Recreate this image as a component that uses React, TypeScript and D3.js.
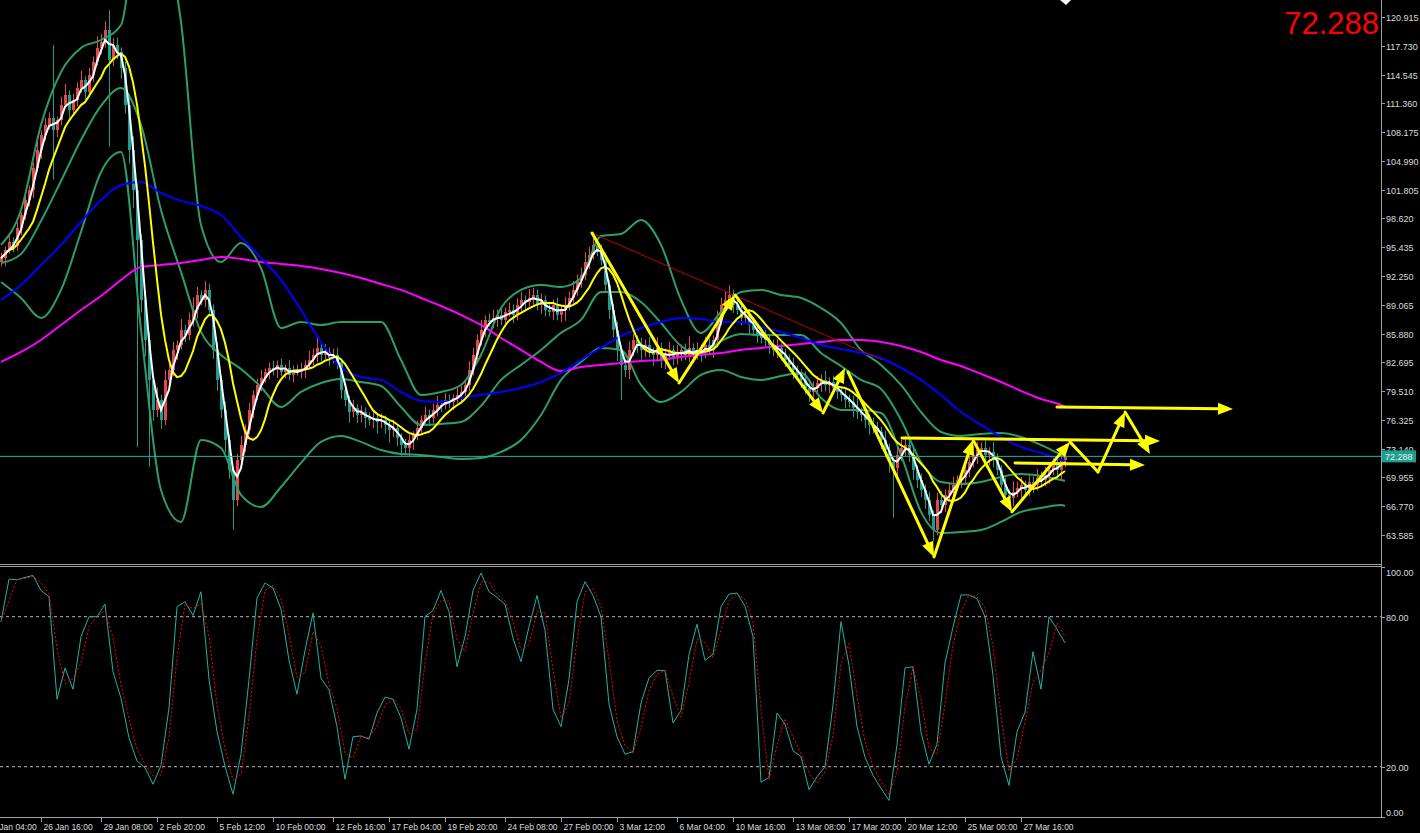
import React from "react";
import * as d3 from "d3";

// ---------- DATA ----------
const firstOpen = 93.8;
const closes = [
  94.25,95.13,96.02,95.58,97.57,99.01,100.67,101.77,104.21,106.20,
  107.86,108.97,109.74,108.41,109.52,111.18,112.29,110.63,111.73,113.06,
  113.95,112.62,114.50,115.94,117.49,118.15,119.48,116.16,117.82,117.05,
  115.27,111.18,106.20,101.77,96.24,89.60,85.17,80.75,77.43,78.53,
  76.32,80.75,81.85,84.07,84.62,86.28,85.73,87.39,88.49,90.15,
  89.60,90.71,88.49,84.07,80.75,77.43,74.11,70.79,67.47,71.89,
  73.55,75.21,77.43,79.09,80.19,80.97,81.63,82.07,81.85,82.41,
  81.63,82.07,81.30,81.85,81.63,81.85,82.41,82.96,83.51,84.29,
  83.51,83.84,83.18,83.51,82.74,79.64,78.53,77.20,77.65,76.87,
  77.20,76.54,76.32,76.54,76.10,76.32,75.77,75.21,75.43,74.33,
  73.55,73.22,74.11,74.66,75.43,76.32,76.87,76.54,77.43,77.98,
  77.98,78.53,78.31,78.75,79.09,79.42,80.19,81.85,83.51,85.17,
  86.28,87.39,87.16,87.61,87.94,87.39,88.27,88.49,87.94,89.05,
  89.60,89.38,89.82,90.15,89.05,89.60,88.49,88.27,89.05,87.94,
  88.49,89.05,89.82,90.71,91.81,92.37,93.80,94.58,95.69,95.13,
  94.03,91.26,88.49,86.28,84.07,82.41,81.85,84.07,85.17,84.62,
  84.07,84.62,83.84,83.51,84.29,82.96,83.51,84.07,83.18,83.84,
  84.07,83.51,84.29,83.51,84.07,83.84,84.62,84.07,85.17,87.39,
  89.05,89.60,90.15,89.05,88.49,87.61,87.94,86.83,86.28,85.73,
  85.39,85.17,84.62,84.07,84.29,83.51,82.96,82.41,81.85,81.30,
  80.75,79.86,79.42,79.86,80.41,80.75,80.19,80.52,79.86,79.42,
  79.09,78.53,78.31,77.65,77.20,76.87,76.32,75.77,75.43,74.99,
  74.11,73.00,71.67,71.01,72.45,73.22,73.55,72.45,70.79,69.68,
  68.57,67.47,65.81,64.14,67.47,66.91,68.02,68.57,69.12,69.68,
  69.90,70.79,71.67,72.45,73.00,73.22,72.45,72.78,71.89,70.79,
  69.12,68.02,67.69,68.35,68.79,69.12,68.57,69.46,69.12,69.90,
  69.68,70.23,70.79,71.34,70.79,71.89,72.288,
];
const wickUp = [
  0.6,0.4,0.8,0.5,0.7,0.3,0.9,0.5,0.6,1.1,
  0.5,0.8,0.6,8.1,0.4,0.9,1.2,0.5,0.7,0.6,
  1.0,0.4,0.8,0.6,1.3,0.9,1.0,2.2,0.8,0.8,
  0.5,0.7,1.2,1.5,0.9,0.6,1.0,0.8,0.5,1.4,
  0.6,1.1,0.7,0.9,0.5,1.2,0.6,0.8,1.4,0.9,
  0.5,1.0,0.7,0.6,0.8,0.5,0.9,0.6,0.4,0.7,
  1.0,0.6,0.8,0.5,0.7,0.9,0.4,0.6,0.8,0.5,
  0.7,0.4,0.9,0.5,0.6,0.8,0.5,1.0,0.7,1.2,
  0.6,0.9,0.5,0.7,0.8,0.4,0.6,0.5,0.9,0.4,
  0.7,0.5,0.6,0.8,0.4,0.7,0.5,0.6,0.9,0.4,
  0.5,0.7,0.6,0.4,0.8,0.5,0.9,0.6,0.7,1.0,
  0.5,0.8,0.6,0.4,0.9,0.7,0.5,1.0,0.8,0.6,
  1.1,0.5,0.7,0.9,0.6,1.0,0.5,0.8,0.6,0.7,
  0.9,0.5,1.0,0.8,0.6,0.7,0.5,0.9,0.6,0.8,
  0.5,0.9,0.7,1.0,0.6,0.8,1.1,0.9,1.4,0.7,
  0.6,0.8,0.5,0.7,0.9,0.5,0.6,1.0,0.7,0.5,
  0.8,0.6,0.9,0.5,1.2,0.6,0.7,0.9,0.5,0.8,
  0.6,0.7,1.3,0.5,0.8,0.6,0.9,0.7,0.5,1.0,
  0.8,0.9,1.1,0.6,0.7,0.5,0.9,0.6,0.8,0.5,
  0.7,0.9,0.5,0.6,1.0,0.5,0.7,0.6,0.8,0.5,
  0.6,0.9,0.5,0.7,0.8,0.6,1.0,0.5,0.7,0.9,
  0.5,0.8,0.6,0.7,1.1,0.5,0.9,0.6,0.8,0.7,
  0.6,1.0,0.7,0.5,1.2,0.9,1.0,0.6,0.8,0.5,
  0.7,0.6,0.9,0.5,0.8,1.0,0.6,0.7,0.9,0.5,
  0.8,0.6,0.7,1.0,0.9,0.6,0.8,0.5,1.1,0.7,
  0.5,0.8,0.6,1.2,0.7,0.9,0.5,0.8,0.6,1.0,
  0.7,0.9,0.5,0.8,1.0,0.9,0.6,
];
const wickDn = [
  0.5,0.9,0.4,0.7,0.6,0.8,0.5,0.7,0.9,0.4,
  1.0,0.6,0.5,5.5,0.8,0.6,0.4,1.1,0.6,0.7,
  0.5,0.9,0.6,0.8,0.4,0.7,0.6,9.6,0.7,0.8,
  1.2,0.9,1.5,2.0,22.9,1.4,1.8,9.6,1.2,0.8,
  1.0,0.6,0.9,0.7,1.1,0.5,0.8,0.6,0.7,0.9,
  0.6,0.8,0.5,1.0,1.2,0.9,1.4,1.0,3.3,0.7,
  0.6,0.8,0.5,0.9,0.6,0.7,0.5,0.8,0.6,0.9,
  0.5,0.7,0.6,0.8,0.4,0.7,0.9,0.5,0.6,0.8,
  0.7,0.5,0.9,0.6,0.8,1.0,0.7,1.2,0.6,0.9,
  0.8,1.1,0.6,0.9,1.3,0.7,1.0,1.4,0.8,0.9,
  1.2,0.7,0.9,1.1,0.6,0.8,0.5,0.9,0.6,0.7,
  0.8,0.5,0.7,0.9,0.6,0.8,0.5,0.7,0.6,0.9,
  0.6,0.8,0.5,0.7,1.0,0.6,0.8,0.5,0.9,0.6,
  0.7,0.9,0.5,0.8,0.6,1.0,0.7,0.5,0.9,0.6,
  0.8,1.2,0.6,0.5,0.7,0.9,0.6,0.8,0.5,0.7,
  0.6,0.9,1.0,0.8,1.2,3.9,0.8,1.0,0.7,0.9,
  1.1,0.8,0.6,1.2,0.7,0.9,1.0,0.6,0.8,0.7,
  1.0,0.6,0.8,0.9,0.5,1.1,0.7,0.6,0.9,0.5,
  0.6,0.8,0.7,0.9,0.5,0.8,0.6,1.0,0.7,0.9,
  0.6,0.8,1.0,0.7,0.9,0.6,0.8,0.7,1.0,0.6,
  0.9,0.7,1.1,0.6,0.8,1.0,0.7,0.9,0.6,0.8,
  0.7,0.9,0.6,1.0,0.8,0.7,0.9,1.1,0.6,0.8,
  1.0,0.8,1.2,5.5,0.9,0.7,1.0,0.8,1.1,0.9,
  0.8,1.0,0.7,1.2,0.6,0.9,0.8,0.7,1.0,0.6,
  0.9,0.7,0.8,0.6,1.0,0.7,0.9,1.2,0.8,0.6,
  1.0,0.8,0.7,0.9,0.6,1.1,0.8,0.7,0.9,0.6,
  0.8,0.7,1.0,0.6,0.9,1.1,0.8,
];

// indicator lines read every 5 bars (+ last bar)
const bbUpper = [
  95.69,99.56,108.97,114.83,117.49,118.37,120.03,132.76,130.55,120.37,
  97.90,93.80,95.91,93.14,86.50,87.16,86.83,87.16,87.16,87.16,
  82.96,79.09,79.42,80.19,83.51,88.71,90.71,91.26,91.04,92.03,
  96.68,96.90,98.45,95.69,89.60,85.95,88.27,90.48,90.71,90.15,
  89.82,88.71,87.05,84.07,82.41,80.19,77.20,74.99,74.55,74.77,
  74.88,74.44,73.55,72.45,72.22,
];
const bbMiddle = [
  93.69,94.69,98.34,102.77,107.31,111.07,113.06,108.97,99.56,92.70,
  86.06,83.51,81.96,79.97,77.76,79.42,80.41,80.86,80.52,80.08,
  77.76,75.77,75.88,76.10,77.87,80.75,82.41,84.07,85.95,87.39,
  90.48,90.48,89.38,87.05,84.51,83.62,85.06,85.84,85.73,85.73,
  85.73,83.73,82.29,80.75,79.75,76.32,71.67,69.46,69.24,69.46,
  70.01,70.34,70.12,69.68,69.57,
];
const bbLower = [
  91.59,89.82,87.61,90.71,97.12,103.76,105.98,86.28,68.57,65.03,
  74.11,73.22,68.02,66.69,68.90,71.56,73.89,74.55,73.89,73.00,
  72.56,72.45,72.22,72.00,72.11,72.78,74.11,76.87,80.75,82.74,
  84.29,84.07,80.19,78.31,79.42,81.30,81.85,81.08,80.75,81.19,
  81.52,78.75,77.43,77.43,77.09,72.45,66.14,63.81,63.92,64.14,
  65.03,66.14,66.58,66.91,66.80,
];
const maBlue = [
  89.60,91.26,93.47,95.69,98.23,100.67,102.33,102.66,101.44,100.56,
  100.00,99.01,96.57,94.25,91.81,88.49,84.95,82.07,81.08,80.75,
  79.42,78.42,78.31,78.75,79.09,79.42,79.86,80.52,81.52,82.96,
  84.29,85.61,86.50,87.16,87.61,87.50,87.16,87.16,86.61,86.06,
  85.39,84.62,84.18,83.73,83.18,82.07,80.75,79.09,77.20,75.77,
  74.44,73.33,72.67,71.89,71.78,
];
const maMagenta = [
  82.74,83.84,85.17,86.83,88.49,90.04,91.81,93.25,93.47,93.69,
  94.03,94.36,94.14,93.80,93.58,93.36,93.03,92.59,92.03,91.37,
  90.71,89.82,88.93,87.94,86.83,85.39,84.07,82.74,81.74,82.18,
  82.41,82.63,82.85,82.96,83.29,83.51,83.73,84.07,84.29,84.51,
  84.73,84.95,85.17,85.17,84.95,84.51,83.84,82.96,82.29,81.41,
  80.52,79.53,78.64,77.98,77.76,
];

// stochastic %K read every 2 bars
const stochMain = [
  78,95,94.8,95.7,96.5,90.5,88,47,59.5,51,
  72,80,80,85,58,47.4,31.5,22.3,19.6,13,
  20.5,43.5,84,86,80.5,90,55,34,20.2,9,
  25,54.7,87.5,93.5,91.5,83,62.5,49,66.5,81.5,
  55.4,50.7,36,15,32,32.3,31,41.5,47.8,47,
  39.5,27,43,80,82.5,90.5,82,60,72,90.5,
  97.5,90,87.7,85,71.4,62,76,88.5,74.5,43,
  36,55,86,94,88.5,80,45,32,25,26,
  45.5,55.5,58.5,58.5,37.5,42.5,64.8,77,62.5,65,
  84,89,89.5,84.2,72,13.8,15.7,41.5,37,26.4,
  24,10.8,16,20,44.7,78,60.5,36,23.8,16.5,
  11.4,6.5,28.8,59.5,60,33.8,21,29,61.5,75.8,
  88.7,88.7,87.2,80,56.5,24,12.5,34,41.8,66,
  51,80,75,69.5,
];

const priceTickLabels = [
  "120.915","117.730","114.545","111.360","108.175","104.990","101.805","98.620","95.435",
  "92.250","89.065","85.880","82.695","79.510","76.325","73.140","69.955","66.770","63.585",
];
const stochTickLabels = ["100.00", "80.00", "20.00", "0.00"];
const stochLevels = [80, 20];
const timeLabels = [
  "23 Jan 04:00","26 Jan 16:00","29 Jan 08:00","2 Feb 20:00","5 Feb 12:00","10 Feb 00:00",
  "12 Feb 16:00","17 Feb 04:00","19 Feb 20:00","24 Feb 08:00","27 Feb 00:00","3 Mar 12:00",
  "6 Mar 04:00","10 Mar 16:00","13 Mar 08:00","17 Mar 20:00","20 Mar 12:00","25 Mar 00:00","27 Mar 16:00",
];
const timeLabelBars = [-4,10,25,39,54,68,83,97,111,126,140,154,169,183,198,212,226,241,255];

const currentPrice = 72.288;
const trendLine: [number, number][] = [[147.75, 97.01], [220.25, 82.96]];
const zigzagA: [number, number][] = [[147.75,97.01],[169.5,80.41],[183.5,90.15],[205.5,77.09],[211,82.07]];
const headsA = [1,1,1,1];
const zigzagB: [number, number][] = [[211.75,81.63],[233.25,61.16],[243,74.11],[252.75,66.14],[267.25,73.89],[274.25,70.56],[281,77.2],[287.25,72.56]];
const headsB = [1,1,1,1,0,1,1];
const hArrows: [number, number][][] = [
  [[225.25,74.33],[289.75,74.0]],
  [[253.5,71.56],[286,71.34]],
  [[264,77.76],[308,77.54]],
];

// ---------- HELPERS ----------
function sma(arr: number[], n: number) {
  return arr.map((_, i) => {
    const s = arr.slice(Math.max(0, i - n + 1), i + 1);
    return d3.mean(s) as number;
  });
}

const FONT = "'Liberation Sans', Arial, sans-serif";
const AXIS_COL = "#a0a0a0";
const TXT_COL = "#dcdcdc";

export default function App() {
  const plotRight = 1381;
  const mainBottom = 564;
  const x = d3.scaleLinear().domain([0, 266]).range([1, 1065]);
  const y = d3.scaleLinear().domain([63.585, 120.915]).range([535, 17]);
  const ys = d3.scaleLinear().domain([0, 100]).range([816.7, 566.7]);

  const sampleBars = d3.range(0, 266, 5).concat([266]);
  const stochBars = d3.range(0, 267, 2);

  const white = sma(closes, 3);
  const yellow = sma(closes, 9);
  const signal = stochMain.map((v, i) => (i === 0 ? v : (v + stochMain[i - 1]) / 2));

  const barLine = d3.line<number>().x((_, i) => x(i)).y((d) => y(d));
  const sampLine = d3
    .line<number>()
    .x((_, i) => x(sampleBars[i]))
    .y((d) => y(d))
    .curve(d3.curveMonotoneX);
  const stLine = d3.line<number>().x((_, i) => x(stochBars[i])).y((d) => ys(d));

  const candles = closes.map((c, i) => {
    const o = i === 0 ? firstOpen : closes[i - 1];
    const up = c > o;
    const hi = Math.max(o, c) + wickUp[i];
    const lo = Math.min(o, c) - wickDn[i];
    const cx = Math.round(x(i));
    const col = up ? "#e24b4b" : "#1f9e8e";
    const top = y(Math.max(o, c));
    const bot = y(Math.min(o, c));
    return (
      <g key={i}>
        <line x1={cx + 0.5} x2={cx + 0.5} y1={y(hi)} y2={y(lo)} stroke={col} strokeWidth={1} />
        <rect x={cx - 1} y={top} width={3} height={Math.max(1, bot - top)} fill={col} />
      </g>
    );
  });

  const arrowSeg = (p1: [number, number], p2: [number, number], head: boolean, key: string) => {
    const x1 = x(p1[0]), y1 = y(p1[1]), x2 = x(p2[0]), y2 = y(p2[1]);
    const dx = x2 - x1, dy = y2 - y1;
    const len = Math.hypot(dx, dy);
    const ux = dx / len, uy = dy / len;
    const L = 15, Wd = 6;
    const bx = x2 - ux * L, by = y2 - uy * L;
    const ex = head ? bx + ux * 2 : x2, ey = head ? by + uy * 2 : y2;
    return (
      <g key={key}>
        <line x1={x1} y1={y1} x2={ex} y2={ey} stroke="#ffff00" strokeWidth={3} strokeLinecap="round" />
        {head && (
          <polygon
            points={`${x2},${y2} ${bx - uy * Wd},${by + ux * Wd} ${bx + uy * Wd},${by - ux * Wd}`}
            fill="#ffff00"
          />
        )}
      </g>
    );
  };

  const yCur = y(currentPrice);

  return (
    <svg
      width={1420}
      height={833}
      style={{ position: "absolute", left: 0, top: 0, background: "#000", display: "block" }}
    >
      <defs>
        <clipPath id="mainClip">
          <rect x={0} y={0} width={plotRight} height={mainBottom} />
        </clipPath>
        <clipPath id="subClip">
          <rect x={0} y={567} width={plotRight} height={250} />
        </clipPath>
      </defs>
      <rect x={0} y={0} width={1420} height={833} fill="#000" />

      {/* MAIN PANEL */}
      <g clipPath="url(#mainClip)">
        {candles}
        <path d={sampLine(bbUpper) || ""} fill="none" stroke="#2e9e68" strokeWidth={2} />
        <path d={sampLine(bbMiddle) || ""} fill="none" stroke="#2e9e68" strokeWidth={2} />
        <path d={sampLine(bbLower) || ""} fill="none" stroke="#2e9e68" strokeWidth={2} />
        <path d={sampLine(maMagenta) || ""} fill="none" stroke="#ff00ff" strokeWidth={2} />
        <path d={sampLine(maBlue) || ""} fill="none" stroke="#0000ff" strokeWidth={2} />
        <path d={barLine(yellow) || ""} fill="none" stroke="#ffff00" strokeWidth={2} />
        <path d={barLine(white) || ""} fill="none" stroke="#ffffff" strokeWidth={2} />
        <line
          x1={x(trendLine[0][0])} y1={y(trendLine[0][1])}
          x2={x(trendLine[1][0])} y2={y(trendLine[1][1])}
          stroke="#c00000" strokeWidth={1}
        />
        <line x1={0} x2={plotRight} y1={yCur} y2={yCur} stroke="#20b2aa" strokeWidth={1} />
        {zigzagA.slice(1).map((p, i) => arrowSeg(zigzagA[i], p, headsA[i] === 1, "a" + i))}
        {zigzagB.slice(1).map((p, i) => arrowSeg(zigzagB[i], p, headsB[i] === 1, "b" + i))}
        {hArrows.map((s, i) => arrowSeg(s[0], s[1], true, "h" + i))}
        <polygon points={`${x(266) - 5},0 ${x(266) + 1},5 ${x(266) + 6},0`} fill="#ffffff" />
      </g>

      {/* SUB PANEL: stochastic */}
      <g clipPath="url(#subClip)">
        {stochLevels.map((lv) => (
          <line key={lv} x1={0} x2={plotRight} y1={ys(lv)} y2={ys(lv)} stroke="#b8b8b8" strokeWidth={1} strokeDasharray="3,3" />
        ))}
        <path d={stLine(stochMain) || ""} fill="none" stroke="#20b2aa" strokeWidth={1} />
        <path d={stLine(signal) || ""} fill="none" stroke="#ff0000" strokeWidth={1} strokeDasharray="2,2" />
      </g>

      {/* frames */}
      <line x1={0} x2={plotRight} y1={mainBottom + 0.5} y2={mainBottom + 0.5} stroke={AXIS_COL} />
      <line x1={0} x2={plotRight} y1={566.5} y2={566.5} stroke={AXIS_COL} />
      <line x1={0} x2={plotRight} y1={817.5} y2={817.5} stroke={AXIS_COL} />
      <line x1={plotRight + 0.5} x2={plotRight + 0.5} y1={0} y2={818} stroke={AXIS_COL} />

      {/* price axis */}
      {priceTickLabels.map((t) => {
        const yy = Math.round(y(+t)) + 0.5;
        return (
          <g key={t}>
            <line x1={plotRight} x2={plotRight + 4} y1={yy} y2={yy} stroke={AXIS_COL} />
            <text x={plotRight + 5} y={yy} dy="0.35em" fontFamily={FONT} fontSize={9} fill={TXT_COL}>{t}</text>
          </g>
        );
      })}
      <rect x={plotRight + 1} y={yCur - 6} width={34} height={12} fill="#1f9e8e" />
      <text x={plotRight + 4} y={yCur} dy="0.35em" fontFamily={FONT} fontSize={9} fill="#e8f0f0">
        {currentPrice.toFixed(3)}
      </text>

      {/* stochastic axis */}
      {stochTickLabels.map((t) => {
        const v = +t;
        const yy = Math.round(ys(v)) + 0.5;
        const ty = v === 100 ? yy + 5 : v === 0 ? yy - 5 : yy;
        return (
          <g key={t}>
            <line x1={plotRight} x2={plotRight + 4} y1={yy} y2={yy} stroke={AXIS_COL} />
            <text x={plotRight + 5} y={ty} dy="0.35em" fontFamily={FONT} fontSize={9} fill={TXT_COL}>{t}</text>
          </g>
        );
      })}

      {/* time axis */}
      {timeLabels.map((t, i) => {
        const xx = Math.round(x(timeLabelBars[i])) + 0.5;
        return (
          <g key={t}>
            <line x1={xx} x2={xx} y1={818} y2={822} stroke={AXIS_COL} />
            <text x={xx + 2} y={830} fontFamily={FONT} fontSize={8.5} fill={TXT_COL}>{t}</text>
          </g>
        );
      })}

      {/* big current price */}
      <text x={1379} y={34} textAnchor="end" fontFamily="Arial, 'Liberation Sans', sans-serif" fontSize={31} fill="#ff0000">
        {currentPrice.toFixed(3)}
      </text>
    </svg>
  );
}
